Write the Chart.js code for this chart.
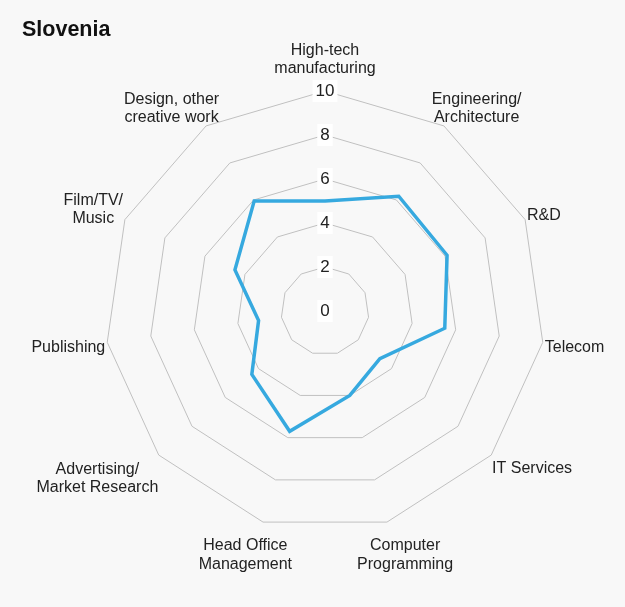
<!DOCTYPE html>
<html lang="en">
<head>
    <meta charset="UTF-8">
    <title>Slovenia</title>
    <script src="https://cdn.jsdelivr.net/npm/chart.js"></script>
    <style>
        body {
            margin: 0;
            background-color: #f8f8f8;
            font-family: 'Liberation Sans', Arial, sans-serif;
        }
        .wrap {
            position: relative;
            width: 625px;
            height: 607px;
        }
        h2 {
            position: absolute;
            left: 22px;
            top: 17px;
            margin: 0;
            font-size: 21.5px;
            line-height: 25px;
            font-weight: bold;
            color: #111;
        }
    </style>
</head>
<body>
    <div class="wrap">
        <h2>Slovenia</h2>
        <canvas id="radar" width="625" height="607"></canvas>
    </div>

    <script>
        const categories = [
            ['High-tech', 'manufacturing'],
            ['Engineering/', 'Architecture'],
            'R&D',
            'Telecom',
            'IT Services',
            ['Computer', 'Programming'],
            ['Head Office', 'Management'],
            ['Advertising/', 'Market Research'],
            'Publishing',
            ['Film/TV/', 'Music'],
            ['Design, other', 'creative work']
        ];
        const values = [5.0, 6.2, 6.1, 5.5, 3.3, 4.0, 5.7, 4.4, 3.05, 4.5, 5.95];
        const scaleMin = 0;
        const scaleMax = 10;
        const tickStep = 2;

        const fontFamily = "'Liberation Sans', Arial, sans-serif";
        const clamp = (v, lo, hi) => Math.max(lo, Math.min(hi, v));

        // axis labels placed around the outer ring, plus the "0" at the centre
        const axisLabels = {
            id: 'axisLabels',
            afterDraw(chart) {
                const scale = chart.scales.r;
                const ctx = chart.ctx;
                const lh = 18.4;
                ctx.save();
                ctx.font = '16px ' + fontFamily;
                ctx.fillStyle = '#222';
                ctx.textAlign = 'center';
                ctx.textBaseline = 'middle';
                chart.data.labels.forEach((label, i) => {
                    const lines = [].concat(label);
                    const w = Math.max(...lines.map(l => ctx.measureText(l).width));
                    const h = lines.length * lh;
                    const a = scale.getIndexAngle(i);
                    // top label sits above the "10" tick box
                    const p = scale.getPointPosition(i, scale.drawingArea + (i === 0 ? 16 : 2));
                    const x = p.x + clamp(1.3 * Math.sin(a), -1, 1) * w / 2;
                    const y = p.y + 3 + clamp(-1.6 * Math.cos(a), -1, 1.6) * h / 2;
                    lines.forEach((line, j) => {
                        ctx.fillText(line, x, y - h / 2 + lh / 2 + j * lh);
                    });
                });

                // Chart.js skips the first tick label, so draw the centre one here
                const c = scale.getPointPositionForValue(0, scaleMin);
                ctx.font = '17px ' + fontFamily;
                const tw = ctx.measureText(String(scaleMin)).width;
                ctx.fillStyle = '#fff';
                ctx.fillRect(c.x - tw / 2 - 3, c.y - 11, tw + 6, 22);
                ctx.fillStyle = '#222';
                ctx.fillText(String(scaleMin), c.x, c.y);
                ctx.restore();
            }
        };

        new Chart(document.getElementById('radar'), {
            type: 'radar',
            data: {
                labels: categories,
                datasets: [{
                    label: 'Slovenia',
                    data: values,
                    borderColor: '#36a9df',
                    borderWidth: 3.5,
                    fill: false,
                    pointRadius: 0,
                    pointHoverRadius: 0,
                    tension: 0
                }]
            },
            options: {
                responsive: false,
                animation: false,
                layout: {
                    padding: { left: 94, right: 69, top: 80, bottom: 65 }
                },
                plugins: {
                    legend: { display: false },
                    tooltip: { enabled: false }
                },
                scales: {
                    r: {
                        min: scaleMin,
                        max: scaleMax,
                        angleLines: { display: false },
                        grid: { color: '#c0c0c0', lineWidth: 1 },
                        pointLabels: { display: false },
                        ticks: {
                            stepSize: tickStep,
                            color: '#222',
                            font: { family: fontFamily, size: 17 },
                            backdropColor: '#fff',
                            backdropPadding: { top: 2.5, bottom: 2.5, left: 3, right: 3 }
                        }
                    }
                }
            },
            plugins: [axisLabels]
        });
    </script>
</body>
</html>
